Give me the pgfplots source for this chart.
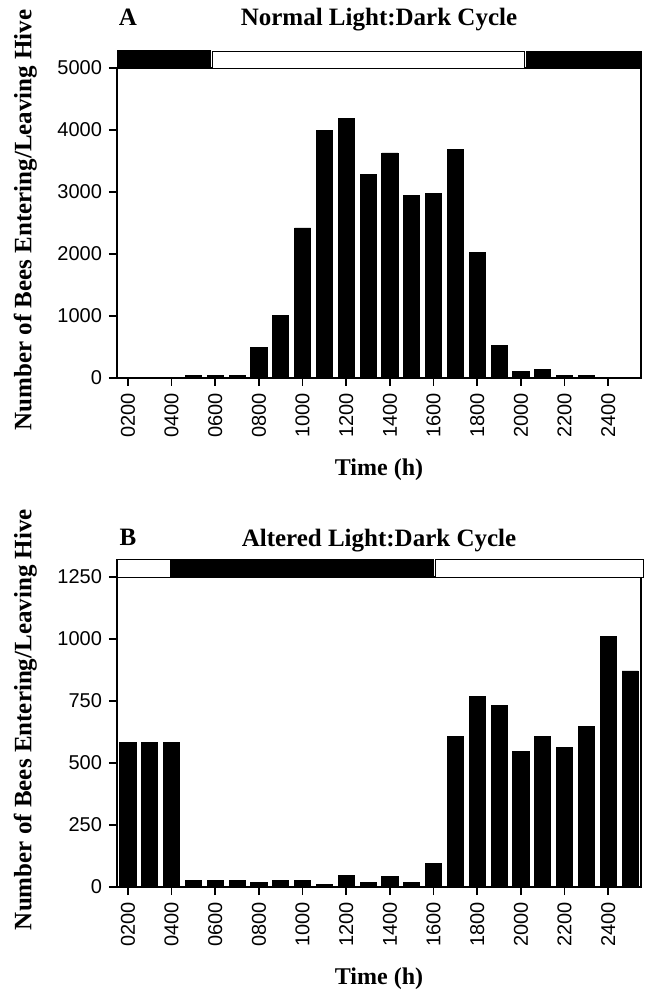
\documentclass[border=0pt]{standalone}
\usepackage{pgfplots}
\pgfplotsset{compat=1.18}
\usepackage{fontspec}
\setmainfont{Liberation Serif}
\newfontfamily\sansf{Liberation Sans}

\pgfplotstableread{
h v
2 5
3 5
4 8
5 40
6 40
7 40
8 490
9 1010
10 2420
11 3990
12 4190
13 3280
14 3630
15 2950
16 2980
17 3690
18 2020
19 520
20 100
21 135
22 35
23 35
24 0
25 0
}\dataA

\pgfplotstableread{
h v
2 583
3 583
4 583
5 27
6 27
7 27
8 20
9 27
10 27
11 12
12 48
13 19
14 43
15 20
16 94
17 606
18 769
19 731
20 548
21 606
22 562
23 649
24 1011
25 871
}\dataB

\pgfplotsset{
  beestyle/.style={
    scale only axis, width=262pt, height=155pt,
    xmin=1.5, xmax=25.5, ymin=0,
    clip=false,
    axis line style={line width=0.9pt},
    every tick/.style={line width=0.9pt, black},
    tick align=outside, major tick length=4pt,
    xtick pos=bottom, ytick pos=left,
    xtick={2,4,...,24},
    xticklabels={0200,0400,0600,0800,1000,1200,1400,1600,1800,2000,2200,2400},
    xticklabel style={rotate=90, anchor=east, font=\sansf\fontsize{10}{10}\selectfont},
    yticklabel style={font=\sansf\fontsize{10}{10}\selectfont},
    /pgf/number format/assume math mode=true,
    /pgf/number format/1000 sep={},
    title style={font=\bfseries\fontsize{12.5}{12.5}\selectfont, anchor=center},
    xlabel style={font=\bfseries\fontsize{12}{12}\selectfont, at={(axis description cs:0.5,0)}, anchor=center, yshift=-46pt},
    ylabel style={font=\bfseries\fontsize{12.5}{12.5}\selectfont, anchor=center},
    xlabel={Time (h)},
    ylabel={Number of Bees Entering/Leaving Hive},
  }
}

\begin{document}
\begin{tikzpicture}
\useasboundingbox (-58.5pt,0pt) rectangle (264pt,495.5pt);

% Panel A
\begin{axis}[beestyle, at={(0pt,306.5pt)}, anchor=south west,
  ymax=5000, ytick={0,1000,...,5000},
  title={Normal Light:Dark Cycle},
  title style={at={(axis description cs:0.5,1)}, yshift=18pt},
  ylabel style={at={(axis description cs:-0.175,0.51)}},
]
\addplot[ybar, bar width=0.74, bar shift=0pt, fill=black, draw=black] table[x=h, y=v] {\dataA};
\addplot[fill=black, draw=black, line width=0.6pt, no markers, forget plot] coordinates {(1.55,4990) (5.78,4990) (5.78,5285) (1.55,5285)} -- cycle;
\addplot[fill=white, draw=black, line width=0.6pt, no markers, forget plot] coordinates {(5.88,4990) (20.15,4990) (20.15,5260) (5.88,5260)} -- cycle;
\addplot[fill=black, draw=black, line width=0.6pt, no markers, forget plot] coordinates {(20.25,4990) (25.5,4990) (25.5,5270) (20.25,5270)} -- cycle;
\node[font=\bfseries\fontsize{12.5}{12.5}\selectfont] at (axis description cs:0.021,1) [yshift=25.5pt] {A};
\end{axis}

% Panel B
\begin{axis}[beestyle, at={(0pt,52pt)}, anchor=south west,
  ymax=1250, ytick={0,250,...,1250},
  title={Altered Light:Dark Cycle},
  title style={at={(axis description cs:0.5,1)}, yshift=12pt},
  ylabel style={at={(axis description cs:-0.175,0.54)}},
]
\addplot[ybar, bar width=0.74, bar shift=0pt, fill=black, draw=black] table[x=h, y=v] {\dataB};
\addplot[fill=white, draw=black, line width=0.6pt, no markers, forget plot] coordinates {(1.5,1248) (3.95,1248) (3.95,1320) (1.5,1320)} -- cycle;
\addplot[fill=black, draw=black, line width=0.6pt, no markers, forget plot] coordinates {(4.02,1248) (16.0,1248) (16.0,1320) (4.02,1320)} -- cycle;
\addplot[fill=white, draw=black, line width=0.6pt, no markers, forget plot] coordinates {(16.07,1248) (25.6,1248) (25.6,1320) (16.07,1320)} -- cycle;
\node[font=\bfseries\fontsize{12.5}{12.5}\selectfont] at (axis description cs:0.021,1) [yshift=20pt] {B};
\end{axis}
\end{tikzpicture}
\end{document}
